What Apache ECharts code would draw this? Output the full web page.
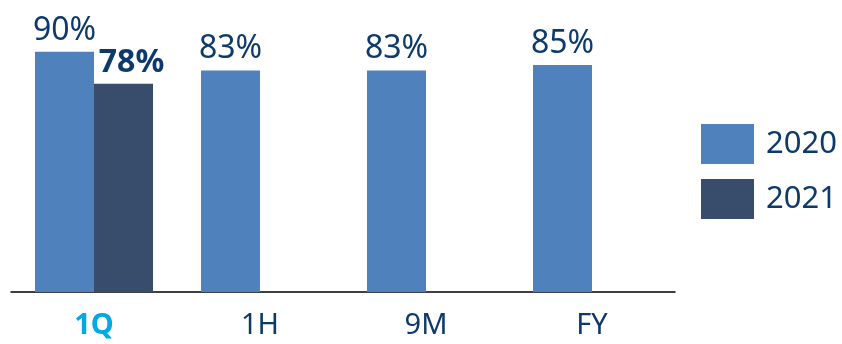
<!DOCTYPE html>
<html><head><meta charset="utf-8">
<script src="https://cdn.jsdelivr.net/npm/echarts@6/dist/echarts.min.js"></script>
<style>html,body{margin:0;padding:0;background:#fff}#c{width:842px;height:344px}</style>
</head><body><div id="c"></div>
<script>
const categories = ['1Q', '1H', '9M', 'FY'];
const values2020 = [90, 83, 83, 85];
const values2021 = [78, null, null, null];
const seriesNames = ['2020', '2021'];

const navy = '#0d3a6b';
const chart = echarts.init(document.getElementById('c'), null, {renderer: 'canvas'});
chart.setOption({
  animation: false,
  textStyle: {fontFamily: 'Noto Sans'},
  grid: {left: 11, right: 167, top: 25, bottom: 52},
  legend: {
    orient: 'vertical', left: 701, top: 124, padding: 0,
    itemWidth: 53, itemHeight: 40, itemGap: 15,
    icon: 'rect',
    textStyle: {fontSize: 31, color: navy, fontFamily: 'Noto Sans', padding: [0, 0, 0, 7]},
    data: seriesNames
  },
  xAxis: {
    type: 'category', data: categories,
    axisLine: {lineStyle: {color: '#000', width: 1.5}},
    axisTick: {show: false},
    axisLabel: {
      margin: 19,
      formatter: v => v === '1Q' ? '{hi|' + v + '}' : '{n|' + v + '}',
      rich: {
        hi: {fontSize: 29, fontWeight: 'bold', color: '#00a8e6', fontFamily: 'Noto Sans'},
        n: {fontSize: 29, color: navy, fontFamily: 'Noto Sans'}
      }
    }
  },
  yAxis: {type: 'value', min: 0, max: 100, show: false, splitLine: {show: false}},
  series: [
    {
      name: seriesNames[0], type: 'bar', data: values2020,
      barGap: '0%', barCategoryGap: '28.9%',
      itemStyle: {color: '#4f81bd'},
      label: {show: true, position: 'top', distance: 5, formatter: '{c}%',
        fontSize: 32, color: navy, fontFamily: 'Noto Sans'}
    },
    {
      name: seriesNames[1], type: 'bar', data: values2021,
      itemStyle: {color: '#384c6c'},
      label: {show: true, position: 'top', distance: 5, offset: [8, 0], formatter: '{c}%',
        fontSize: 32, fontWeight: 'bold', color: navy, fontFamily: 'Noto Sans'}
    }
  ]
});
</script></body></html>
